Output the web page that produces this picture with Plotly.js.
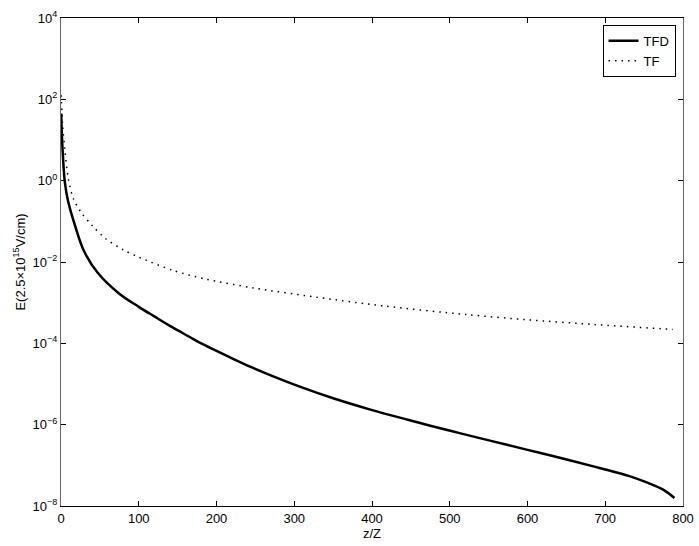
<!DOCTYPE html>
<html>
<head>
<meta charset="utf-8">
<script src="https://cdn.plot.ly/plotly-3.0.1.min.js"></script>
<style>html,body{margin:0;padding:0;background:#fff;}#chart{width:699px;height:546px;}</style>
</head>
<body>
<div id="chart"></div>
<script>
const tfdZ = [0.3, 1, 2.5, 5, 9, 18, 30, 48, 75, 100, 120, 143, 165, 179, 200, 222, 244, 265, 308, 351, 398, 446, 475, 514, 553, 600, 630, 686, 700, 730, 755, 775, 789];
const tfdE = [45, 16, 4.0, 0.89, 0.32, 0.079, 0.0178, 5.2e-3, 1.66e-3, 7.9e-4, 4.6e-4, 2.5e-4, 1.45e-4, 1.02e-4, 6.5e-5, 4.1e-5, 2.63e-5, 1.78e-5, 8.5e-6, 4.4e-6, 2.35e-6, 1.32e-6, 9.4e-7, 6.1e-7, 4.0e-7, 2.4e-7, 1.74e-7, 9.3e-8, 7.9e-8, 5.5e-8, 3.7e-8, 2.5e-8, 1.58e-8];
const tfZ = [0.3, 2, 5, 9.4, 16, 27, 40, 57, 80, 100, 143, 186, 248, 330, 415, 521, 600, 686, 787];
const tfE = [126, 25, 5.6, 1.12, 0.355, 0.155, 0.079, 0.038, 0.02, 0.0132, 6.3e-3, 3.8e-3, 2.3e-3, 1.35e-3, 8.3e-4, 5.1e-4, 3.8e-4, 2.9e-4, 2.2e-4];
const xTicks = [0, 100, 200, 300, 400, 500, 600, 700, 800];
const yTickVals = [1e-8, 1e-6, 1e-4, 1e-2, 1, 1e2, 1e4];
const yTickText = ['10<sup>−8</sup>', '10<sup>−6</sup>', '10<sup>−4</sup>', '10<sup>−2</sup>', '10<sup>0</sup>', '10<sup>2</sup>', '10<sup>4</sup>'];

const font = {family: 'Liberation Sans, Arial, sans-serif', size: 13, color: '#000'};
const traces = [
  {x: tfdZ, y: tfdE, name: 'TFD', mode: 'lines', line: {color: '#000', width: 2.5, shape: 'spline', smoothing: 1}},
  {x: tfZ, y: tfE, name: 'TF', mode: 'lines', line: {color: '#000', width: 1.5, dash: '1.5px,5px', shape: 'spline', smoothing: 0.8}}
];
const layout = {
  width: 699, height: 546,
  margin: {l: 61, r: 16, t: 18, b: 40},
  paper_bgcolor: '#fff', plot_bgcolor: '#fff',
  font: font,
  showlegend: true,
  legend: {x: 0.988, y: 0.986, xanchor: 'right', yanchor: 'top', bordercolor: '#000', borderwidth: 1, bgcolor: '#fff', font: font, itemwidth: 30, tracegroupgap: 0},
  xaxis: {
    range: [0, 800], tickvals: xTicks, ticktext: xTicks.map(String),
    ticks: 'inside', ticklen: 5, tickcolor: '#000', showline: true, linecolor: '#000', linewidth: 1,
    mirror: 'ticks', showgrid: false, zeroline: false,
    title: {text: 'z/Z', font: font, standoff: 2}
  },
  yaxis: {
    type: 'log', range: [-8, 4], tickvals: yTickVals, ticktext: yTickText,
    ticks: 'inside', ticklen: 5, tickcolor: '#000', showline: true, linecolor: '#666', linewidth: 1,
    mirror: 'ticks', showgrid: false, zeroline: false,
    title: {text: 'E(2.5×10<sup>15</sup>V/cm)', font: font, standoff: 4}
  }
};
Plotly.newPlot('chart', traces, layout, {displayModeBar: false, staticPlot: true});
</script>
</body>
</html>
